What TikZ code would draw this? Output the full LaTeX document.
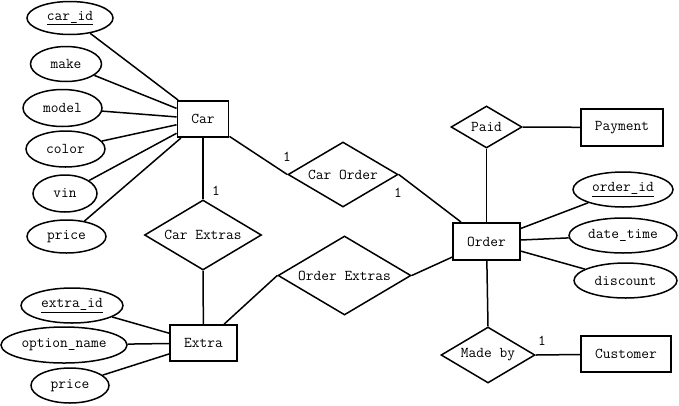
\documentclass[tikz,border=0pt]{standalone}
\usepackage{fontspec}
\usetikzlibrary{shapes.geometric}
\begin{document}
\begin{tikzpicture}[
				x=1pt, y=-1pt,
				font=\ttfamily\fontsize{15}{17}\selectfont,
				every node/.style={
						font=\ttfamily\fontsize{15}{17}\selectfont,
					},
				entity/.style={draw, line width=1.9pt, inner sep=0pt, minimum height=36pt},
				attr/.style={draw, ellipse, line width=1.5pt, inner sep=0pt, minimum height=35pt},
				rel/.style={draw, diamond, aspect=2, line width=1.5pt, inner sep=0pt},
				link/.style={line width=1.5pt},]
			\useasboundingbox (0,0) rectangle (679,405);
			% entities
			\node[entity, minimum width=51pt] (car) at (203,119) {Car};
			\node[entity, minimum width=67pt, minimum height=37pt] (order) at (486.5,241.5) {Order};
			\node[entity, minimum width=82pt, minimum height=37pt] (payment) at (622,127.5) {Payment};
			\node[entity, minimum width=67pt] (extra) at (203.5,343) {Extra};
			\node[entity, minimum width=90pt] (customer) at (626,354) {Customer};
			% attributes
			\node[attr, minimum width=86pt, minimum height=33pt] (carid) at (70,18) {\underline{car\_id}};
			\node[attr, minimum width=71pt] (make) at (66,64) {make};
			\node[attr, minimum width=79pt, minimum height=37pt] (model) at (62.5,108) {model};
			\node[attr, minimum width=79pt, minimum height=36pt] (color) at (65.5,149) {color};
			\node[attr, minimum width=64pt, minimum height=37pt] (vin) at (65,193.5) {vin};
			\node[attr, minimum width=79pt, minimum height=33pt] (price) at (66.5,236.5) {price};
			\node[attr, minimum width=100pt] (orderid) at (623,189.5) {\underline{order\_id}};
			\node[attr, minimum width=108pt] (datetime) at (623,235.5) {date\_time};
			\node[attr, minimum width=103pt] (discount) at (625.5,280.5) {discount};
			\node[attr, minimum width=102pt] (extraid) at (72,305.5) {\underline{extra\_id}};
			\node[attr, minimum width=126pt, minimum height=36pt] (optname) at (64,345) {option\_name};
			\node[attr, minimum width=78pt] (eprice) at (70,385.5) {price};
			% relationships
			\node[rel, minimum width=110pt, minimum height=65pt] (carorder) at (343,174.5) {Car Order};
			\node[rel, minimum width=117pt, minimum height=70pt] (carextras) at (203,235) {Car Extras};
			\node[rel, minimum width=133pt, minimum height=79pt] (orderextras) at (344.5,275.5) {Order Extras};
			\node[rel, minimum width=71pt, minimum height=42pt] (paid) at (486.5,127) {Paid};
			\node[rel, minimum width=94pt, minimum height=56pt] (madeby) at (488,355) {Made by};
			% links
			\foreach \a in {carid,make,model,color,vin,price} {
					\draw[link] (car) -- (\a);
				}
			\foreach \a in {orderid,datetime,discount} {
					\draw[link] (order) -- (\a);
				}
			\foreach \a in {extraid,optname,eprice} {
					\draw[link] (extra) -- (\a);
				}
			\draw[link] (car) -- (carorder.west);
			\draw[link] (carorder.east) -- (order);
			\draw[link] (car) -- (carextras.north);
			\draw[link] (carextras.south) -- (extra);
			\draw[link] (extra) -- (orderextras.west);
			\draw[link] (orderextras.east) -- (order);
			\draw[link] (order) -- (paid.south);
			\draw[link] (paid.east) -- (payment);
			\draw[link] (order) -- (madeby.north);
			\draw[link] (madeby.east) -- (customer);
			% cardinalities
			\node (card1) at (287,157) {1};
			\node (card2) at (398,193) {1};
			\node (card3) at (216,191) {1};
			\node (card4) at (542,341) {1};
		\end{tikzpicture}
\end{document}
